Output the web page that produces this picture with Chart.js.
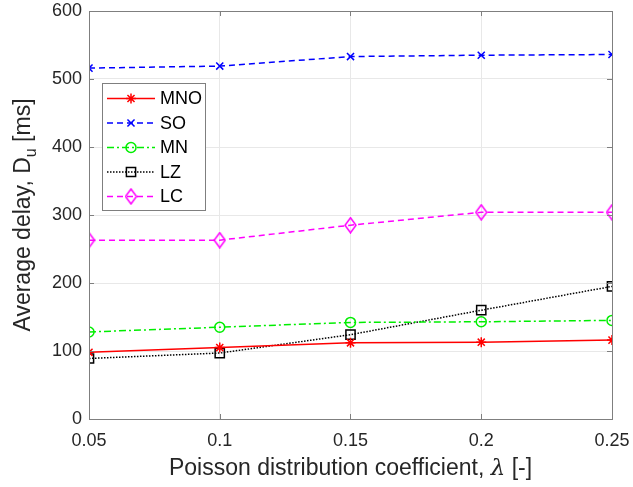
<!DOCTYPE html>
<html>
<head>
<meta charset="utf-8">
<script src="https://cdn.jsdelivr.net/npm/chart.js@4.4.1/dist/chart.umd.min.js"></script>
<style>
  html, body { margin: 0; padding: 0; background: #fff; }
  #wrap { width: 633px; height: 487px; }
</style>
</head>
<body>
<div id="wrap"><canvas id="myChart" width="633" height="487"></canvas></div>
<script>
// lambda values along the x axis
const lambdas = [0.05, 0.1, 0.15, 0.2, 0.25];
const xTicks = [0.05, 0.1, 0.15, 0.2, 0.25];
const yTicks = [0, 100, 200, 300, 400, 500, 600];

// average delay per scheme [ms]
const names = ["MNO", "SO", "MN", "LZ", "LC"];
const mno = [98, 105, 112, 113, 116];
const so = [516, 519, 533, 535, 536];
const mn = [128, 135, 142, 143, 145];
const lz = [89, 97, 124, 160, 195];
const lc = [263, 263, 285, 304, 304];

const textColor = "#262626";
const axisColor = "#7f7f7f";
const fontName = "'Liberation Sans', Arial, sans-serif";
const titleSize = 23;

// tall diamond marker like matlab's 'd'
function makeDiamond(color) {
    const c = document.createElement("canvas");
    c.width = 13;
    c.height = 17;
    const g = c.getContext("2d");
    g.strokeStyle = color;
    g.lineWidth = 1.5;
    g.beginPath();
    g.moveTo(6.5, 1);
    g.lineTo(12, 8.5);
    g.lineTo(6.5, 16);
    g.lineTo(1, 8.5);
    g.closePath();
    g.stroke();
    return c;
}

function pts(values) {
    return lambdas.map((x, i) => ({ x: x, y: values[i] }));
}

const datasets = [
    { label: names[0], data: pts(mno), borderColor: "#ff0000", borderDash: [],
      pointStyle: "star", pointRadius: 5 },
    { label: names[1], data: pts(so), borderColor: "#0000ff", borderDash: [6, 4],
      pointStyle: "crossRot", pointRadius: 5 },
    { label: names[2], data: pts(mn), borderColor: "#00ee00", borderDash: [7, 3, 2, 3],
      pointStyle: "circle", pointRadius: 5 },
    { label: names[3], data: pts(lz), borderColor: "#000000", borderDash: [1.5, 1.5],
      pointStyle: "rect", pointRadius: 6.5 },
    { label: names[4], data: pts(lc), borderColor: "#ff00ff", borderDash: [6, 4],
      pointStyle: makeDiamond("#ff00ff"), pointRadius: 6 },
];
datasets.forEach((d) => {
    d.borderWidth = 1.5;
    d.pointBorderColor = d.borderColor;
    d.pointBackgroundColor = "rgba(0,0,0,0)";
    d.pointBorderWidth = 1.5;
    d.fill = false;
    d.tension = 0;
});

// box, inner ticks, legend and axis titles
const matlabLook = {
    id: "matlabLook",
    afterDraw(chart) {
        const ctx = chart.ctx;
        const a = chart.chartArea;
        const xs = chart.scales.x;
        const ys = chart.scales.y;
        ctx.save();

        // axes box
        ctx.strokeStyle = axisColor;
        ctx.lineWidth = 1;
        ctx.setLineDash([]);
        ctx.strokeRect(Math.round(a.left) + 0.5, Math.round(a.top) + 0.5,
            Math.round(a.right - a.left), Math.round(a.bottom - a.top));

        // ticks pointing inward on all four sides
        ctx.beginPath();
        xTicks.forEach((v) => {
            const px = Math.round(xs.getPixelForValue(v)) + 0.5;
            ctx.moveTo(px, a.bottom); ctx.lineTo(px, a.bottom - 5);
            ctx.moveTo(px, a.top); ctx.lineTo(px, a.top + 5);
        });
        yTicks.forEach((v) => {
            const py = Math.round(ys.getPixelForValue(v)) + 0.5;
            ctx.moveTo(a.left, py); ctx.lineTo(a.left + 5, py);
            ctx.moveTo(a.right, py); ctx.lineTo(a.right - 5, py);
        });
        ctx.stroke();

        // legend
        const lx = 102.5, ly = 83.5, lw = 103, lh = 127;
        ctx.fillStyle = "#fff";
        ctx.fillRect(lx, ly, lw, lh);
        ctx.strokeStyle = axisColor;
        ctx.strokeRect(lx, ly, lw, lh);
        ctx.font = "18px " + fontName;
        ctx.textBaseline = "middle";
        chart.data.datasets.forEach((d, i) => {
            const y = 98.5 + i * 24.5;
            ctx.strokeStyle = d.borderColor;
            ctx.lineWidth = d.borderWidth;
            ctx.setLineDash(d.borderDash);
            ctx.beginPath();
            ctx.moveTo(107, y);
            ctx.lineTo(155, y);
            ctx.stroke();
            ctx.setLineDash([]);
            ctx.fillStyle = "rgba(0,0,0,0)";
            Chart.helpers.drawPoint(ctx, {
                pointStyle: d.pointStyle, radius: d.pointRadius,
                borderWidth: d.pointBorderWidth, rotation: 0
            }, 131, y);
            ctx.fillStyle = "#000";
            ctx.fillText(d.label, 160, y + 1);
        });

        // x axis title with italic lambda
        ctx.fillStyle = textColor;
        ctx.textBaseline = "alphabetic";
        const cx = (a.left + a.right) / 2;
        const p1 = "Poisson distribution coefficient, ";
        const p2 = "\u03bb";
        const p3 = " [-]";
        const plain = titleSize + "px " + fontName;
        const greek = "italic " + titleSize + "px 'DejaVu Serif', serif";
        ctx.font = plain;
        const w1 = ctx.measureText(p1).width;
        const w3 = ctx.measureText(p3).width;
        ctx.font = greek;
        const w2 = ctx.measureText(p2).width;
        let x0 = cx - (w1 + w2 + w3) / 2;
        ctx.font = plain;
        ctx.fillText(p1, x0, 475);
        ctx.font = greek;
        ctx.fillText(p2, x0 + w1, 475);
        ctx.font = plain;
        ctx.fillText(p3, x0 + w1 + w2, 475);

        // y axis title with subscript u
        ctx.translate(30, (a.top + a.bottom) / 2);
        ctx.rotate(-Math.PI / 2);
        const q1 = "Average delay, D";
        const q2 = "u";
        const q3 = " [ms]";
        const small = "16px " + fontName;
        ctx.font = plain;
        const v1 = ctx.measureText(q1).width;
        const v3 = ctx.measureText(q3).width;
        ctx.font = small;
        const v2 = ctx.measureText(q2).width;
        x0 = -(v1 + v2 + v3) / 2;
        ctx.font = plain;
        ctx.fillText(q1, x0, 0);
        ctx.font = small;
        ctx.fillText(q2, x0 + v1, 6);
        ctx.font = plain;
        ctx.fillText(q3, x0 + v1 + v2, 0);

        ctx.restore();
    },
};

const ctx = document.getElementById("myChart").getContext("2d");
const my_chart = new Chart(ctx, {
    type: "line",
    data: { datasets: datasets },
    options: {
        responsive: false,
        animation: false,
        devicePixelRatio: 1,
        layout: { padding: { left: 0, right: 21, top: 11, bottom: 0 } },
        plugins: {
            legend: { display: false },
            tooltip: { enabled: false },
        },
        scales: {
            x: {
                type: "linear",
                min: 0.05,
                max: 0.25,
                afterBuildTicks: (s) => { s.ticks = xTicks.map((v) => ({ value: v })); },
                afterFit: (s) => { s.height = 68; s.paddingLeft = 0; s.paddingRight = 0; },
                grid: { color: "#e8e8e8", drawTicks: false },
                border: { display: false },
                ticks: {
                    padding: 11,
                    color: textColor,
                    font: { family: fontName, size: 18 },
                    maxRotation: 0,
                    callback: (v) => String(+v.toFixed(2)),
                },
            },
            y: {
                min: 0,
                max: 600,
                afterBuildTicks: (s) => { s.ticks = yTicks.map((v) => ({ value: v })); },
                afterFit: (s) => { s.width = 89; s.paddingTop = 0; s.paddingBottom = 0; },
                grid: { color: "#e8e8e8", drawTicks: false },
                border: { display: false },
                ticks: {
                    padding: 7,
                    color: textColor,
                    font: { family: fontName, size: 18 },
                },
            },
        },
    },
    plugins: [matlabLook],
});
</script>
</body>
</html>
